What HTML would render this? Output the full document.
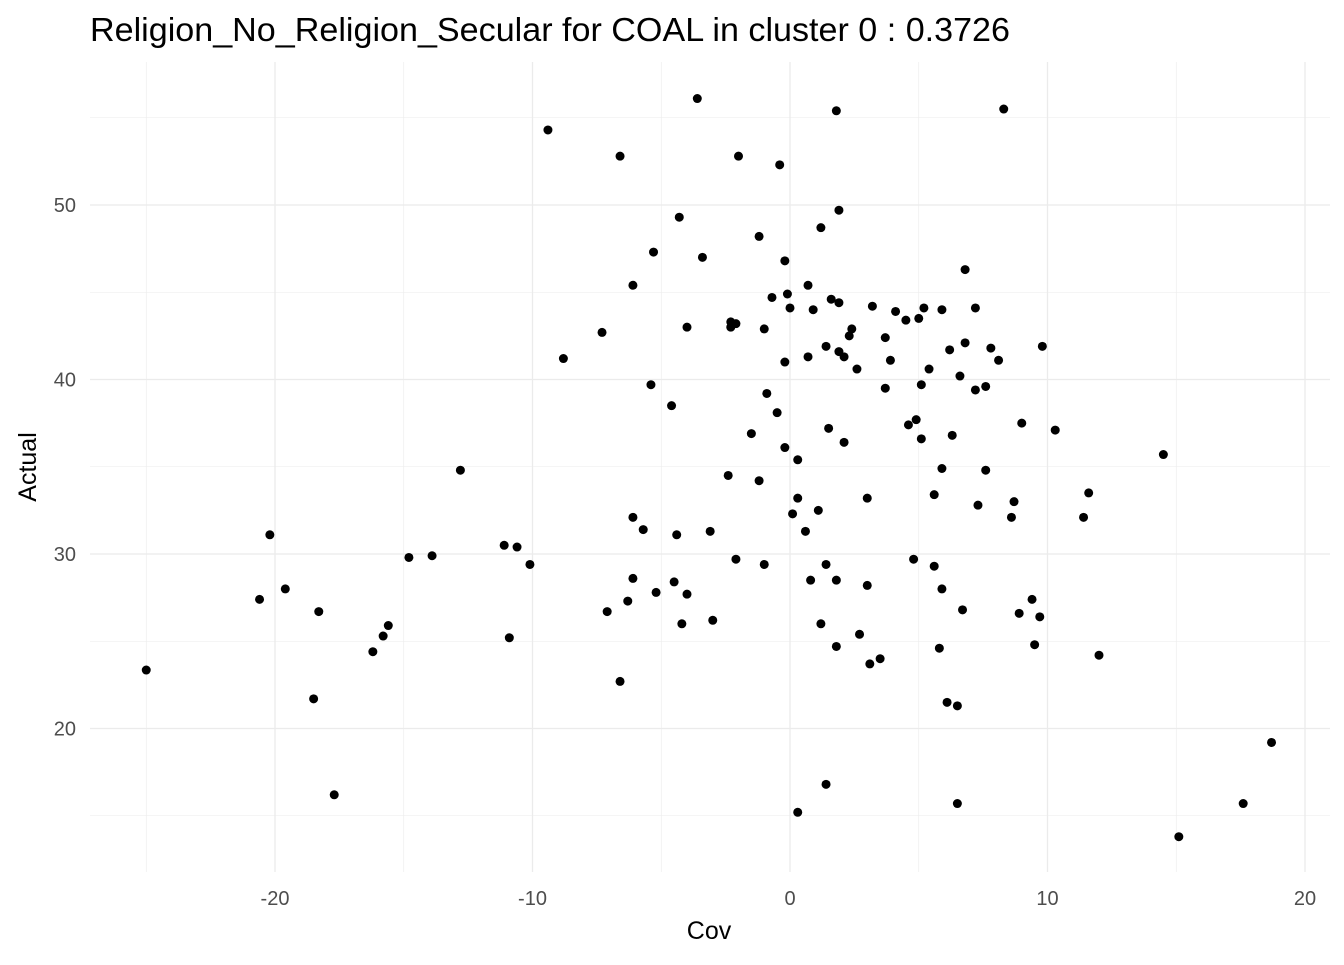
<!DOCTYPE html>
<html><head><meta charset="utf-8"><style>
body{margin:0;background:#fff;}
svg text{font-family:"Liberation Sans",Arial,sans-serif;}
</style></head><body>
<svg id="chart" width="1344" height="960">
<text x="90" y="41" font-size="33" textLength="920" lengthAdjust="spacingAndGlyphs" fill="#000">Religion_No_Religion_Secular for COAL in cluster 0 : 0.3726</text>
<g id="grid"></g><g id="pts"></g><g id="labels"></g>
<text x="709" y="939" font-size="25" text-anchor="middle" fill="#000">Cov</text>
<text transform="translate(36,467) rotate(-90)" font-size="25" text-anchor="middle" fill="#000">Actual</text>
</svg>
<script>
const xTicks=[-20,-10,0,10,20];
const yTicks=[20,30,40,50];
const covValues=[-25.0,-20.6,-20.2,-19.6,-18.5,-18.3,-17.7,-16.2,-15.8,-15.6,-14.8,-13.9,-12.8,-11.1,-10.9,-10.6,-10.1,-9.4,-8.8,-7.3,-7.1,-6.6,-6.6,-6.3,-6.1,-6.1,-6.1,-5.7,-5.4,-5.3,-5.2,-4.6,-4.5,-4.4,-4.3,-4.2,-4.0,-4.0,-3.6,-3.4,-3.1,-3.0,-2.4,-2.3,-2.3,-2.1,-2.0,-2.1,-1.5,-1.2,-1.2,-1.0,-1.0,-0.9,-0.7,-0.5,-0.4,-0.2,-0.2,-0.2,-0.1,0,0.1,0.3,0.3,0.3,0.6,0.7,0.7,0.8,0.9,1.1,1.2,1.2,1.4,1.4,1.4,1.5,1.6,1.8,1.8,1.8,1.9,1.9,1.9,2.1,2.1,2.3,2.4,2.6,2.7,3.0,3.0,3.1,3.2,3.5,3.7,3.7,3.9,4.1,4.5,4.6,4.8,4.9,5.0,5.1,5.1,5.2,5.4,5.6,5.6,5.8,5.9,5.9,5.9,6.1,6.2,6.3,6.5,6.5,6.6,6.7,6.8,6.8,7.2,7.2,7.3,7.6,7.6,7.8,8.1,8.3,8.6,8.7,8.9,9.0,9.4,9.5,9.7,9.8,10.3,11.4,11.6,12.0,14.5,15.1,17.6,18.7];
const actualValues=[23.35,27.4,31.1,28.0,21.7,26.7,16.2,24.4,25.3,25.9,29.8,29.9,34.8,30.5,25.2,30.4,29.4,54.3,41.2,42.7,26.7,52.8,22.7,27.3,32.1,45.4,28.6,31.4,39.7,47.3,27.8,38.5,28.4,31.1,49.3,26.0,27.7,43.0,56.1,47.0,31.3,26.2,34.5,43.3,43.0,43.2,52.8,29.7,36.9,34.2,48.2,42.9,29.4,39.2,44.7,38.1,52.3,46.8,36.1,41.0,44.9,44.1,32.3,35.4,33.2,15.2,31.3,45.4,41.3,28.5,44.0,32.5,26.0,48.7,41.9,16.8,29.4,37.2,44.6,55.4,28.5,24.7,44.4,49.7,41.6,41.3,36.4,42.5,42.9,40.6,25.4,33.2,28.2,23.7,44.2,24.0,42.4,39.5,41.1,43.9,43.4,37.4,29.7,37.7,43.5,39.7,36.6,44.1,40.6,33.4,29.3,24.6,28.0,44.0,34.9,21.5,41.7,36.8,21.3,15.7,40.2,26.8,46.3,42.1,39.4,44.1,32.8,39.6,34.8,41.8,41.1,55.5,32.1,33.0,26.6,37.5,27.4,24.8,26.4,41.9,37.1,32.1,33.5,24.2,35.7,13.8,15.7,19.2];
const NS='http://www.w3.org/2000/svg';
const L=90,R=1330,T=62,B=872;
function sx(v){return 790+v*25.75;}
function sy(v){return 205+(50-v)*17.45;}
const grid=document.getElementById('grid'),pts=document.getElementById('pts'),lab=document.getElementById('labels');
function line(x1,y1,x2,y2,w,name){const l=document.createElementNS(NS,'line');l.setAttribute('x1',x1);l.setAttribute('y1',y1);l.setAttribute('x2',x2);l.setAttribute('y2',y2);l.setAttribute('stroke','#ebebeb');l.setAttribute('stroke-width',w);


grid.appendChild(l);}
for(let v=-25;v<=20;v+=5){const major=xTicks.includes(v);line(sx(v),T,sx(v),B,major?1.3:0.6,major?'x-gridline-major':'x-gridline-minor');}
for(let v=15;v<=55;v+=5){const major=yTicks.includes(v);line(L,sy(v),R,sy(v),major?1.3:0.6,major?'y-gridline-major':'y-gridline-minor');}
xTicks.forEach(v=>{const t=document.createElementNS(NS,'text');t.setAttribute('x',sx(v));t.setAttribute('y',905);t.setAttribute('text-anchor','middle');t.setAttribute('font-size','20');t.setAttribute('fill','#4d4d4d');t.textContent=v;


lab.appendChild(t);});
yTicks.forEach(v=>{const t=document.createElementNS(NS,'text');t.setAttribute('x',76);t.setAttribute('y',sy(v)+7);t.setAttribute('text-anchor','end');t.setAttribute('font-size','20');t.setAttribute('fill','#4d4d4d');t.textContent=v;


lab.appendChild(t);});
covValues.forEach((c,i)=>{const p=document.createElementNS(NS,'circle');p.setAttribute('cx',sx(c));p.setAttribute('cy',sy(actualValues[i]));p.setAttribute('r',4.5);p.setAttribute('fill','#000');


pts.appendChild(p);});
</script>
</body></html>
